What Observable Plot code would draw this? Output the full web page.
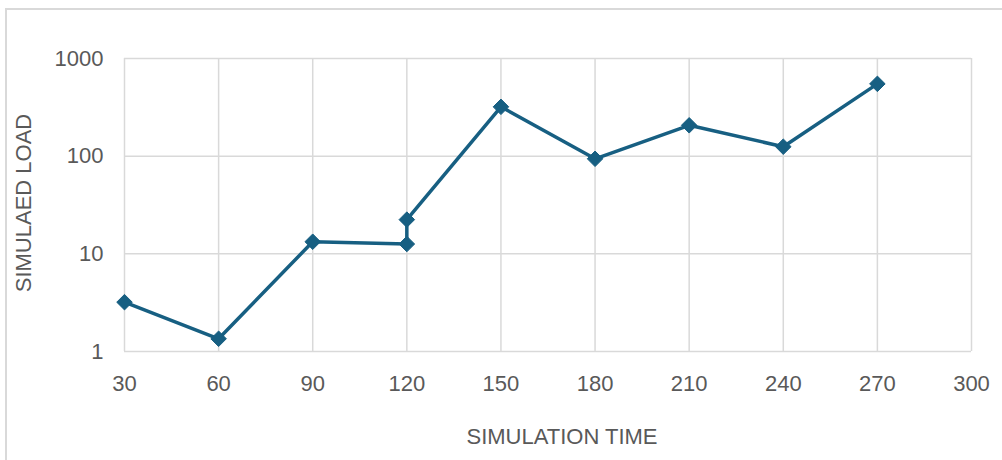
<!DOCTYPE html>
<html>
<head>
<meta charset="utf-8">
<script src="https://cdn.jsdelivr.net/npm/d3@7"></script>
<script src="https://cdn.jsdelivr.net/npm/@observablehq/plot@0.6"></script>
<style>
  html, body { margin: 0; padding: 0; background: #fff; overflow: hidden; }
  #wrap { position: relative; width: 1002px; height: 460px; }
  #frame { position: absolute; left: 5px; top: 8px; width: 1200px; height: 600px; border: 2px solid #d9d9d9; box-sizing: border-box; }
  #chart { position: absolute; left: 0; top: 0; }
  #xlabel { position: absolute; left: 0; width: 1124px; top: 424px; text-align: center; font: 22px "Liberation Sans", Arial, sans-serif; color: #595959; }
  #ylabel { position: absolute; left: 24px; top: 203px; transform: translate(-50%, -50%) rotate(-90deg); white-space: nowrap; font: 22px "Liberation Sans", Arial, sans-serif; color: #595959; }
</style>
</head>
<body>
<div id="wrap">
  <div id="frame"></div>
  <div id="chart"></div>
  <div id="xlabel">SIMULATION TIME</div>
  <div id="ylabel">SIMULAED LOAD</div>
</div>
<script>
const times = [30, 60, 90, 120, 120, 150, 180, 210, 240, 270];
const loads = [3.2, 1.35, 13.3, 12.6, 22.4, 320, 94, 207, 125, 550];
const xTicks = [30, 60, 90, 120, 150, 180, 210, 240, 270, 300];
const yTicks = [1, 10, 100, 1000];

const data = times.map((t, i) => ({time: t, load: loads[i], order: i}));
const color = "#175f82";

const chart = Plot.plot({
  width: 1002,
  height: 460,
  marginLeft: 124,
  marginRight: 31,
  marginTop: 58,
  marginBottom: 109,
  style: {fontFamily: "'Liberation Sans', Arial, sans-serif", fontSize: "22px", color: "#595959", background: "transparent"},
  x: {domain: [30, 300], ticks: xTicks, label: null},
  y: {type: "log", domain: [1, 1000], ticks: yTicks, label: null},
  marks: [
    Plot.ruleX(xTicks, {stroke: "#d9d9d9", strokeWidth: 1.5, strokeOpacity: 1}),
    Plot.ruleY(yTicks, {stroke: "#d9d9d9", strokeWidth: 1.5, strokeOpacity: 1}),
    Plot.axisX({ticks: xTicks, tickSize: 0, tickPadding: 24, tickFormat: d => String(d), fill: "#595959", label: null}),
    Plot.axisY({ticks: yTicks, tickSize: 0, tickPadding: 21, tickFormat: d => String(d), fill: "#595959", label: null}),
    Plot.line(data, {x: "time", y: "load", sort: "order", stroke: color, strokeWidth: 3.5}),
    Plot.dot(data, {x: "time", y: "load", symbol: "diamond2", r: 7, fill: color, stroke: color, strokeWidth: 1})
  ]
});
document.getElementById("chart").appendChild(chart);
</script>
</body>
</html>
